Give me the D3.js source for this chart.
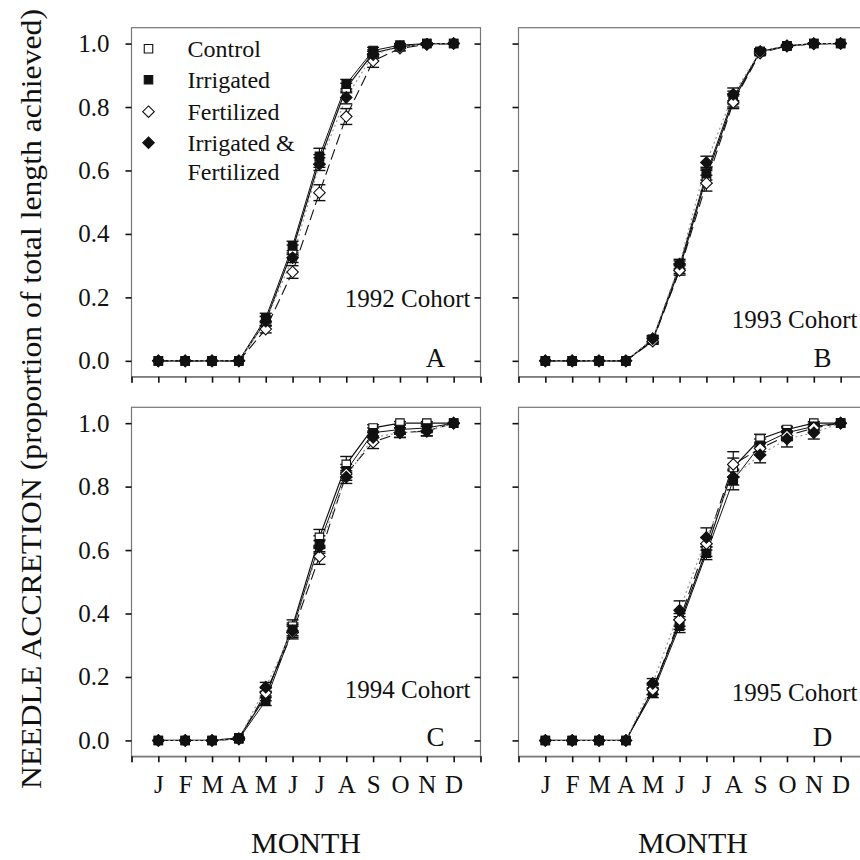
<!DOCTYPE html>
<html>
<head>
<meta charset="utf-8">
<script src="https://cdn.jsdelivr.net/npm/d3@7"></script>
<style>
  body { margin: 0; background: #fff; }
</style>
</head>
<body>
<div id="chart"></div>
<script>
var svgWidth = 860;
var svgHeight = 860;
var serif = "'Liberation Serif'";

// months and tick labels
var months = ["J", "F", "M", "A", "M", "J", "J", "A", "S", "O", "N", "D"];
var yTicks = [0.0, 0.2, 0.4, 0.6, 0.8, 1.0];
var seriesNames = ["Control", "Irrigated", "Fertilized", "Irrigated & Fertilized"];

// 1992 cohort
var c92Control    = [0, 0, 0, 0, 0.125, 0.350, 0.630, 0.860, 0.970, 0.990, 1.000, 1.000];
var c92Irrigated  = [0, 0, 0, 0, 0.135, 0.362, 0.645, 0.872, 0.978, 0.995, 1.000, 1.000];
var c92Fertilized = [0, 0, 0, 0, 0.100, 0.280, 0.530, 0.770, 0.945, 0.985, 0.997, 1.000];
var c92IrrFert    = [0, 0, 0, 0, 0.125, 0.325, 0.620, 0.830, 0.965, 0.990, 0.998, 1.000];
var c92ErrControl = [0, 0, 0, 0, 0.015, 0.015, 0.020, 0.015, 0.010, 0.005, 0.002, 0];
var c92ErrIrr     = [0, 0, 0, 0, 0.015, 0.015, 0.025, 0.015, 0.010, 0.005, 0.002, 0];
var c92ErrFert    = [0, 0, 0, 0, 0.012, 0.020, 0.025, 0.025, 0.020, 0.008, 0.003, 0];
var c92ErrIF      = [0, 0, 0, 0, 0.015, 0.015, 0.020, 0.020, 0.010, 0.005, 0.002, 0];

// 1993 cohort
var c93Control    = [0, 0, 0, 0, 0.065, 0.290, 0.580, 0.820, 0.975, 0.992, 1.000, 1.000];
var c93Irrigated  = [0, 0, 0, 0, 0.068, 0.300, 0.590, 0.830, 0.975, 0.993, 1.000, 1.000];
var c93Fertilized = [0, 0, 0, 0, 0.062, 0.285, 0.560, 0.815, 0.970, 0.992, 0.999, 1.000];
var c93IrrFert    = [0, 0, 0, 0, 0.070, 0.305, 0.625, 0.840, 0.975, 0.993, 1.000, 1.000];
var c93ErrControl = [0, 0, 0, 0, 0.010, 0.015, 0.020, 0.020, 0.008, 0.004, 0.001, 0];
var c93ErrIrr     = [0, 0, 0, 0, 0.010, 0.015, 0.020, 0.020, 0.008, 0.004, 0.001, 0];
var c93ErrFert    = [0, 0, 0, 0, 0.010, 0.015, 0.025, 0.020, 0.008, 0.004, 0.001, 0];
var c93ErrIF      = [0, 0, 0, 0, 0.010, 0.015, 0.020, 0.020, 0.008, 0.004, 0.001, 0];

// 1994 cohort
var c94Control    = [0, 0, 0, 0.008, 0.140, 0.360, 0.640, 0.870, 0.985, 1.000, 1.000, 1.000];
var c94Irrigated  = [0, 0, 0, 0.005, 0.125, 0.350, 0.620, 0.850, 0.970, 0.980, 0.985, 1.000];
var c94Fertilized = [0, 0, 0, 0.005, 0.150, 0.340, 0.580, 0.840, 0.940, 0.970, 0.975, 1.000];
var c94IrrFert    = [0, 0, 0, 0.005, 0.168, 0.345, 0.610, 0.830, 0.955, 0.970, 0.975, 1.000];
var c94ErrControl = [0, 0, 0, 0.003, 0.015, 0.020, 0.025, 0.025, 0.010, 0.005, 0.005, 0];
var c94ErrIrr     = [0, 0, 0, 0.003, 0.015, 0.020, 0.025, 0.020, 0.015, 0.015, 0.015, 0];
var c94ErrFert    = [0, 0, 0, 0.003, 0.015, 0.020, 0.025, 0.020, 0.020, 0.015, 0.015, 0];
var c94ErrIF      = [0, 0, 0, 0.003, 0.015, 0.020, 0.020, 0.020, 0.015, 0.015, 0.015, 0];

// 1995 cohort
var c95Control    = [0, 0, 0, 0, 0.160, 0.370, 0.600, 0.860, 0.950, 0.980, 1.000, 1.000];
var c95Irrigated  = [0, 0, 0, 0, 0.150, 0.360, 0.590, 0.820, 0.930, 0.970, 0.990, 1.000];
var c95Fertilized = [0, 0, 0, 0, 0.160, 0.380, 0.620, 0.870, 0.920, 0.960, 0.985, 1.000];
var c95IrrFert    = [0, 0, 0, 0, 0.180, 0.410, 0.640, 0.830, 0.900, 0.950, 0.970, 1.000];
var c95ErrControl = [0, 0, 0, 0, 0.015, 0.020, 0.020, 0.030, 0.015, 0.010, 0.005, 0];
var c95ErrIrr     = [0, 0, 0, 0, 0.015, 0.020, 0.020, 0.030, 0.020, 0.015, 0.010, 0];
var c95ErrFert    = [0, 0, 0, 0, 0.015, 0.020, 0.020, 0.040, 0.020, 0.015, 0.010, 0];
var c95ErrIF      = [0, 0, 0, 0, 0.015, 0.030, 0.030, 0.025, 0.025, 0.025, 0.020, 0];

var panels = [
  { label: "A", cohort: "1992 Cohort", col: 0, row: 0, cohortY: 0.17,
    values: [c92Control, c92Irrigated, c92Fertilized, c92IrrFert],
    errors: [c92ErrControl, c92ErrIrr, c92ErrFert, c92ErrIF] },
  { label: "B", cohort: "1993 Cohort", col: 1, row: 0, cohortY: 0.105,
    values: [c93Control, c93Irrigated, c93Fertilized, c93IrrFert],
    errors: [c93ErrControl, c93ErrIrr, c93ErrFert, c93ErrIF] },
  { label: "C", cohort: "1994 Cohort", col: 0, row: 1, cohortY: 0.135,
    values: [c94Control, c94Irrigated, c94Fertilized, c94IrrFert],
    errors: [c94ErrControl, c94ErrIrr, c94ErrFert, c94ErrIF] },
  { label: "D", cohort: "1995 Cohort", col: 1, row: 1, cohortY: 0.125,
    values: [c95Control, c95Irrigated, c95Fertilized, c95IrrFert],
    errors: [c95ErrControl, c95ErrIrr, c95ErrFert, c95ErrIF] }
];

// styles for each series
var seriesStyle = [
  { shape: "square",  fill: "#fff",  dash: null,   stroke: "#111", width: 1.2 },
  { shape: "square",  fill: "#111",  dash: null,   stroke: "#111", width: 1.0 },
  { shape: "diamond", fill: "#fff",  dash: "11,5", stroke: "#111", width: 1.1 },
  { shape: "diamond", fill: "#111",  dash: "2,3",  stroke: "#999", width: 1.2 }
];

var panelSize = 349;
var panelLeft = [131.5, 518.5];
var panelTop = [27.7, 407.3];

var svg = d3.select("#chart")
  .append("svg")
  .attr("width", svgWidth)
  .attr("height", svgHeight);

// every text gets the serif face directly
function serifText(sel, size) {
  return sel.style("font-family", serif).style("font-size", size + "px").attr("fill", "#111");
}

// x: tick positions 0..13, months sit on 1..12
var xScale = d3.scaleLinear().domain([0, 13]).range([0, panelSize]);
var yScale = d3.scaleLinear().domain([-0.05, 1.05]).range([panelSize, 0]);

var symSquare = d3.symbol().type(d3.symbolSquare).size(72);
var symDiamond = d3.symbol().type(d3.symbolDiamond2).size(85);

panels.forEach(function(p) {
  var g = svg.append("g")
    .attr("transform", `translate(${panelLeft[p.col]}, ${panelTop[p.row]})`);

  // frame
  g.append("rect")
    .attr("x", 0).attr("y", 0)
    .attr("width", panelSize).attr("height", panelSize)
    .attr("fill", "none")
    .attr("stroke", "#777")
    .attr("stroke-width", 1.2);

  // bottom axis, ticks outward
  var bottomAxis = d3.axisBottom(xScale)
    .tickValues(d3.range(0, 14))
    .tickSize(6)
    .tickFormat(function(d) { return (p.row === 1 && d >= 1 && d <= 12) ? months[d - 1] : ""; });
  var xAxis = g.append("g")
    .attr("transform", `translate(0, ${panelSize})`)
    .call(bottomAxis);
  xAxis.select(".domain").attr("stroke", "#777").attr("stroke-width", 1.2);
  xAxis.selectAll(".tick line").attr("stroke", "#111").attr("stroke-width", 1.6);
  serifText(xAxis.selectAll(".tick text"), 25).attr("y", 19);

  // left axis, ticks outward
  var leftAxis = d3.axisLeft(yScale)
    .tickValues(yTicks)
    .tickSize(6)
    .tickFormat(function(d) { return p.col === 0 ? d3.format(".1f")(d) : ""; });
  var yAxis = g.append("g").call(leftAxis);
  yAxis.select(".domain").remove();
  yAxis.selectAll(".tick line").attr("stroke", "#111").attr("stroke-width", 1.6);
  serifText(yAxis.selectAll(".tick text"), 25).attr("x", -22);

  // right ticks, inward
  var rightAxis = d3.axisLeft(yScale).tickValues(yTicks).tickSize(6).tickFormat("");
  var rAxis = g.append("g")
    .attr("transform", `translate(${panelSize}, 0)`)
    .call(rightAxis);
  rAxis.select(".domain").remove();
  rAxis.selectAll(".tick line").attr("stroke", "#111").attr("stroke-width", 1.6);

  // lines
  var line = d3.line()
    .x(function(d, i) { return xScale(i + 1); })
    .y(function(d) { return yScale(d); });

  p.values.forEach(function(vals, s) {
    var st = seriesStyle[s];
    g.append("path")
      .datum(vals)
      .attr("d", line)
      .attr("fill", "none")
      .attr("stroke", st.stroke)
      .attr("stroke-width", st.width)
      .attr("stroke-dasharray", st.dash);
  });

  // error bars
  p.values.forEach(function(vals, s) {
    var errs = p.errors[s];
    var eb = g.append("g").selectAll("g")
      .data(vals.map(function(v, i) { return { i: i, v: v, e: errs[i] }; }).filter(function(d) { return d.e > 0; }))
      .enter().append("g");
    eb.append("line")
      .attr("x1", function(d) { return xScale(d.i + 1); })
      .attr("x2", function(d) { return xScale(d.i + 1); })
      .attr("y1", function(d) { return yScale(d.v - d.e); })
      .attr("y2", function(d) { return yScale(d.v + d.e); })
      .attr("stroke", "#111").attr("stroke-width", 1.2);
    [-1, 1].forEach(function(sign) {
      eb.append("line")
        .attr("x1", function(d) { return xScale(d.i + 1) - 6; })
        .attr("x2", function(d) { return xScale(d.i + 1) + 6; })
        .attr("y1", function(d) { return yScale(d.v + sign * d.e); })
        .attr("y2", function(d) { return yScale(d.v + sign * d.e); })
        .attr("stroke", "#111").attr("stroke-width", 1.4);
    });
  });

  // markers
  p.values.forEach(function(vals, s) {
    var st = seriesStyle[s];
    g.append("g").selectAll("path")
      .data(vals)
      .enter().append("path")
      .attr("d", st.shape === "square" ? symSquare : symDiamond)
      .attr("transform", function(d, i) { return `translate(${xScale(i + 1)}, ${yScale(d)})`; })
      .attr("fill", st.fill)
      .attr("stroke", "#111")
      .attr("stroke-width", 1.1);
  });

  // cohort label and panel letter
  serifText(g.append("text"), 25)
    .attr("x", panelSize - 10)
    .attr("y", yScale(p.cohortY))
    .attr("text-anchor", "end")
    .text(p.cohort);
  serifText(g.append("text"), 27)
    .attr("x", panelSize - 45)
    .attr("y", yScale(-0.018))
    .attr("text-anchor", "middle")
    .text(p.label);

  // month title under lower panels
  if (p.row === 1) {
    serifText(g.append("text"), 30)
      .attr("x", panelSize / 2)
      .attr("y", panelSize + 97)
      .attr("text-anchor", "middle")
      .text("MONTH");
  }
});

// legend in panel A
var legend = svg.append("g").attr("transform", `translate(${panelLeft[0]}, ${panelTop[0]})`);
var legendRows = [
  { s: 0, lines: ["Control"], y: 21 },
  { s: 1, lines: ["Irrigated"], y: 52 },
  { s: 2, lines: ["Fertilized"], y: 84 },
  { s: 3, lines: ["Irrigated &", "Fertilized"], y: 115 }
];
legendRows.forEach(function(r) {
  var st = seriesStyle[r.s];
  legend.append("path")
    .attr("d", st.shape === "square" ? symSquare : symDiamond)
    .attr("transform", `translate(17, ${r.y})`)
    .attr("fill", st.fill)
    .attr("stroke", "#111")
    .attr("stroke-width", 1.1);
  r.lines.forEach(function(t, k) {
    serifText(legend.append("text"), 24)
      .attr("x", 56)
      .attr("y", r.y + 8 + k * 29)
      .text(t);
  });
});

// shared y title
serifText(svg.append("text"), 30)
  .attr("transform", `translate(41, 399) rotate(-90)`)
  .attr("text-anchor", "middle")
  .attr("textLength", 780)
  .attr("lengthAdjust", "spacingAndGlyphs")
  .text("NEEDLE ACCRETION (proportion of total length achieved)");
</script>
</body>
</html>
